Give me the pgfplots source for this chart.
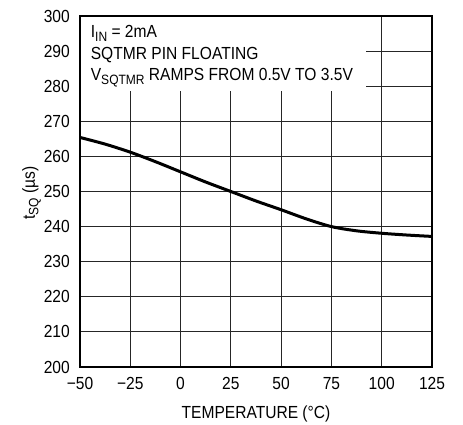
\documentclass[border=0pt]{standalone}
\usepackage{fontspec}
\setmainfont{Liberation Sans}[FakeStretch=0.89]
\usepackage{pgfplots}
\pgfplotsset{compat=1.18}
\newcommand{\lbl}{\fontsize{17.5}{20}\selectfont}
\newcommand{\sub}[1]{\raisebox{-3.5pt}{\fontsize{13.5}{15}\selectfont #1}}
\begin{document}
\lbl
\begin{tikzpicture}
\begin{axis}[
  at={(0,0)}, anchor=south west,
  scale only axis, width=352pt, height=351pt,
  xmin=-50, xmax=125, ymin=200, ymax=300,
  xtick={-50,-25,0,25,50,75,100,125},
  xticklabels={−50,−25,0,25,50,75,100,125},
  ytick={200,210,...,300},
  /pgf/number format/assume math mode=true,
  /pgf/number format/1000 sep={},
  grid=major,
  grid style={black!85, line width=0.9pt},
  major tick length=0pt,
  axis line style={black, line width=1.6pt},
  tick label style={font=\lbl},
  xticklabel style={anchor=base, inner sep=0pt, yshift=-22pt},
  yticklabel style={anchor=east, inner sep=0pt, xshift=-10pt},
  xlabel={TEMPERATURE (°C)},
  xlabel style={font=\lbl, at={(rel axis cs:0.5,0)}, anchor=base, inner sep=0pt, yshift=-51pt},
]
\addplot[black, line width=3pt, smooth, tension=0.5] coordinates {
  (-50,265.4) (-37.5,263.5) (-25,261.2) (-12.5,258.5) (0,255.6)
  (12.5,252.7) (25,250.0) (37.5,247.3) (50,244.8) (62.5,242.2)
  (75,240.0) (87.5,238.8) (100,238.1) (112.5,237.6) (125,237.2)
};
\fill[white] ([xshift=0.9pt,yshift=-0.9pt]axis cs:-50,300) rectangle (axis cs:92.2,278.5);
\node[anchor=base west, inner sep=0pt, font=\lbl] at (axis cs:-44.7,293.8) {I\sub{IN} = 2mA};
\node[anchor=base west, inner sep=0pt, font=\lbl] at (axis cs:-44.7,287.6) {SQTMR PIN FLOATING};
\node[anchor=base west, inner sep=0pt, font=\lbl] at (axis cs:-44.7,281.6) {V\sub{SQTMR} RAMPS FROM 0.5V TO 3.5V};
\end{axis}
\node[rotate=90, anchor=base, inner sep=0pt, font=\lbl] at (-45pt,174pt) {t\sub{SQ} (µs)};
\pgfresetboundingbox
\path (-80pt,-57pt) rectangle (383pt,367pt);
\end{tikzpicture}
\end{document}
